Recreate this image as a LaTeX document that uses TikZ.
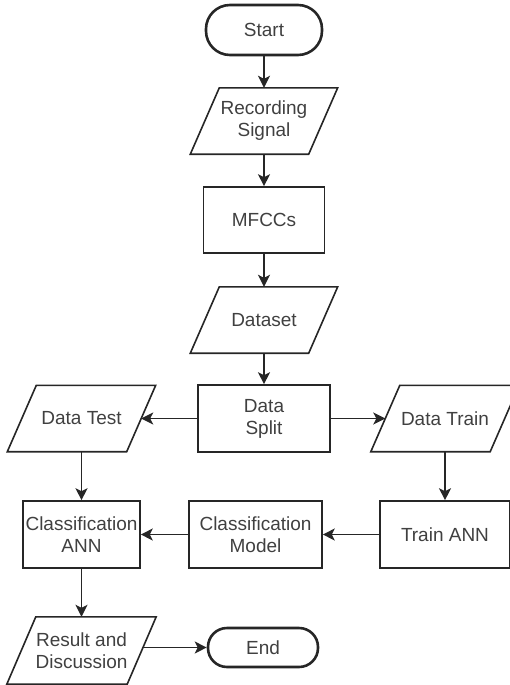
\documentclass[tikz,border=0pt]{standalone}
\usepackage{fontspec}
\setmainfont{Liberation Sans}
\usetikzlibrary{arrows.meta}
\newcommand\iodraw[1]{\draw[shapeline] ([xshift=14.5pt]#1.north west) -- ([xshift=14.5pt]#1.north east) -- ([xshift=-14.5pt]#1.south east) -- ([xshift=-14.5pt]#1.south west) -- cycle;}
\begin{document}
\begin{tikzpicture}[x=1pt,y=-1pt,
  font=\fontsize{19}{22}\selectfont,
  shapeline/.style={draw=black!85, line width=1.6pt, line join=miter},
  box/.style={draw=black!85, line width=1.6pt, text=black!75, align=center, inner sep=0pt},
  proc/.style={box, minimum height=67pt},
  term/.style={box, line width=2.6pt},
  io/.style={text=black!75, align=center, inner sep=0pt, minimum height=66pt},
  arr/.style={-{Stealth[length=12pt,width=12pt,inset=3pt]}, line width=1.6pt, draw=black!85}]
\useasboundingbox (0,0) rectangle (510,685);
\node[term, minimum width=116pt, minimum height=50pt, rounded corners=24pt] (start) at (264,30) {Start};
\node[io, minimum width=118pt] (rec) at (264,121) {Recording\\Signal};
\node[proc, minimum width=121pt, minimum height=66pt] (mfcc) at (264,220) {MFCCs};
\node[io, minimum width=118pt] (ds) at (264,320) {Dataset};
\node[proc, minimum width=132pt] (split) at (264,418.5) {Data\\Split};
\node[io, minimum width=119pt] (test) at (81.5,418.5) {Data Test};
\node[io, minimum width=119pt] (train) at (445,418.5) {Data Train};
\node[proc, minimum width=117pt] (cann) at (81.5,534.5) {Classification\\ANN};
\node[proc, minimum width=133pt] (cmodel) at (255.5,534.5) {Classification\\Model};
\node[proc, minimum width=130pt] (tann) at (445,534.5) {Train ANN};
\node[io, minimum width=120pt, minimum height=67pt] (res) at (81.5,650.5) {Result and\\Discussion};
\node[term, minimum width=110pt, minimum height=39pt, rounded corners=19pt] (end) at (263,647.5) {End};
\iodraw{rec}
\iodraw{ds}
\iodraw{test}
\iodraw{train}
\iodraw{res}
\draw[arr] (start) -- (rec);
\draw[arr] (rec) -- (mfcc);
\draw[arr] (mfcc) -- (ds);
\draw[arr] (ds) -- (split);
\draw[arr] (split) -- (test);
\draw[arr] (split) -- (train);
\draw[arr] (test) -- (cann);
\draw[arr] (train) -- (tann);
\draw[arr] (tann) -- (cmodel);
\draw[arr] (cmodel) -- (cann);
\draw[arr] (cann) -- (res);
\draw[arr] (end.west -| res.east) -- (end.west);
\end{tikzpicture}
\end{document}
